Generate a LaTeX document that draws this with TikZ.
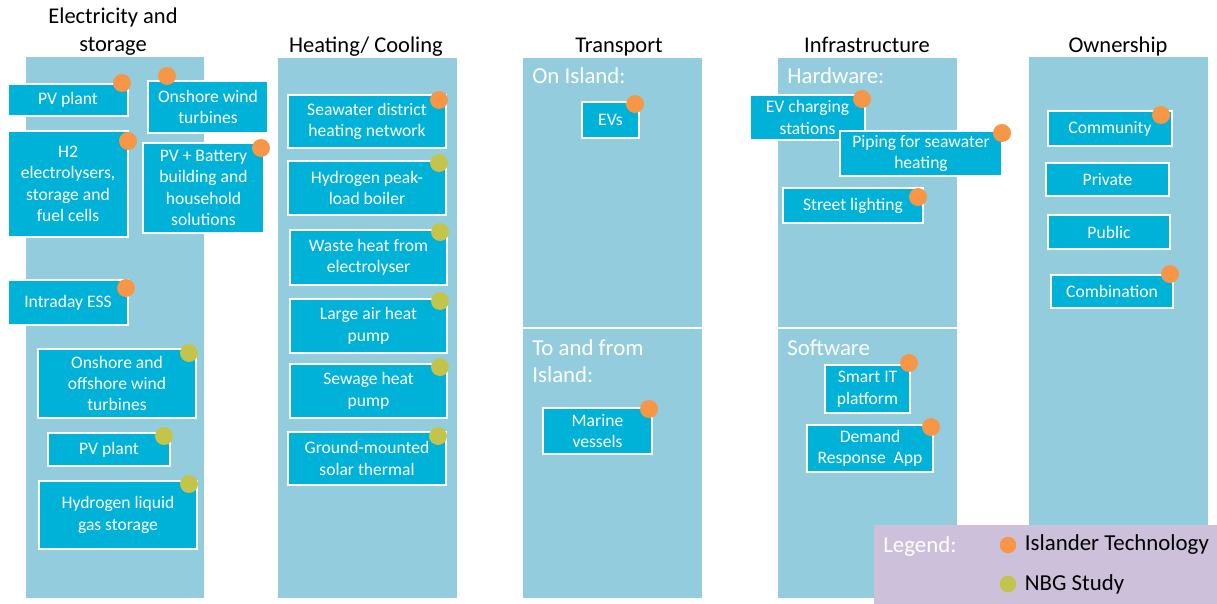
\documentclass[tikz,border=0pt]{standalone}
\usepackage{fontspec}
\setmainfont{Carlito}
\usetikzlibrary{positioning,fit}
\definecolor{colbg}{HTML}{93CDDD}
\definecolor{techfill}{HTML}{00B2D8}
\definecolor{islorange}{HTML}{F79646}
\definecolor{nbggreen}{HTML}{C4C44A}
\definecolor{legbg}{HTML}{CCC0DA}

\begin{document}
\begin{tikzpicture}[
  x=0.02cm, y=-0.02cm,
  column/.style={rectangle, fill=colbg, inner sep=0pt},
  divider/.style={white, line width=1.2pt},
  tech/.style={rectangle, fill=techfill, draw=white, line width=1.1pt, inner sep=0pt, align=center, text=white, font=\fontsize{10}{12.2}\selectfont},
  heading/.style={align=center, inner sep=0pt, font=\fontsize{12.8}{15.8}\selectfont},
  sublabel/.style={anchor=north west, align=left, inner sep=0pt, text=white, font=\fontsize{13}{15.5}\selectfont},
  islander/.style={circle, fill=islorange, minimum size=0.36cm, inner sep=0pt},
  nbg/.style={circle, fill=nbggreen, minimum size=0.36cm, inner sep=0pt},
  legtext/.style={inner sep=0pt, font=\fontsize{13}{15.5}\selectfont},
]
  \useasboundingbox (0,0) rectangle (1217,604);

  % columns
  \node[column, fit={(26,57) (204,598)}] (colElec) {};
  \node[column, fit={(278,58) (457,598)}] (colHeat) {};
  \node[column, fit={(523,58) (702,598)}] (colTrans) {};
  \node[column, fit={(778,58) (957,598)}] (colInfra) {};
  \node[column, fit={(1029,57) (1208,598)}] (colOwn) {};
  \draw[divider] (523,328) -- (702,328);
  \draw[divider] (778,328) -- (957,328);

  \node[heading, anchor=north] (hElec) at (113,8) {Electricity and\\storage};
  \node[heading, anchor=base] (hHeat) at (366,53) {Heating/ Cooling};
  \node[heading, anchor=base] (hTrans) at (619,53) {Transport};
  \node[heading, anchor=base] (hInfra) at (867,53) {Infrastructure};
  \node[heading, anchor=base] (hOwn) at (1118,53) {Ownership};

  \node[sublabel] (sOnIsl) at (532,67) {On Island:};
  \node[sublabel] (sToIsl) at (532,339) {To and from\\Island:};
  \node[sublabel] (sHard) at (787,67) {Hardware:};
  \node[sublabel] (sSoft) at (787,339) {Software};

  % electricity and storage
  \node[tech, minimum width=2.4cm, minimum height=0.64cm] (pvA) at (68,100) {PV plant};
  \node[tech, minimum width=2.4cm, minimum height=1.04cm] (windA) at (208,107) {Onshore wind\\turbines};
  \node[tech, minimum width=2.4cm, minimum height=2.12cm] (htwo) at (68,184) {H2\\electrolysers,\\storage and\\fuel cells};
  \node[tech, minimum width=2.42cm, minimum height=1.8cm] (pvbat) at (203.5,188) {PV + Battery\\building and\\household\\solutions};
  \node[tech, minimum width=2.4cm, minimum height=0.9cm] (ess) at (68,302.5) {Intraday ESS};
  \node[tech, minimum width=3.16cm, minimum height=1.38cm] (windB) at (117,383.5) {Onshore and\\offshore wind\\turbines};
  \node[tech, minimum width=2.44cm, minimum height=0.66cm] (pvB) at (109,449.5) {PV plant};
  \node[tech, minimum width=3.16cm, minimum height=1.36cm] (hliq) at (118,515) {Hydrogen liquid\\gas storage};
  \node[islander] (dPvA) at (122,83) {};
  \node[islander] (dWindA) at (167,76) {};
  \node[islander] (dHtwo) at (128,141) {};
  \node[islander] (dPvbat) at (261,148) {};
  \node[islander] (dEss) at (126,288) {};
  \node[nbg] (dWindB) at (189,353) {};
  \node[nbg] (dPvB) at (164,436) {};
  \node[nbg] (dHliq) at (189,484) {};

  % heating / cooling
  \node[tech, minimum width=3.16cm, minimum height=1.06cm] (seadh) at (367,121.5) {Seawater district\\heating network};
  \node[tech, minimum width=3.16cm, minimum height=1.08cm] (hboil) at (367,188) {Hydrogen peak-\\load boiler};
  \node[tech, minimum width=3.14cm, minimum height=1.1cm] (waste) at (368.5,257.5) {Waste heat from\\electrolyser};
  \node[tech, minimum width=3.14cm, minimum height=1.08cm] (airhp) at (368.5,326) {Large air heat\\pump};
  \node[tech, minimum width=3.14cm, minimum height=1.08cm] (sewhp) at (368.5,391) {Sewage heat\\pump};
  \node[tech, minimum width=3.16cm, minimum height=1.06cm] (solth) at (367,458.5) {Ground-mounted\\solar thermal};
  \node[islander] (dSeadh) at (439,100) {};
  \node[nbg] (dHboil) at (439,163) {};
  \node[nbg] (dWaste) at (440,232) {};
  \node[nbg] (dAirhp) at (440,301) {};
  \node[nbg] (dSewhp) at (440,367) {};
  \node[nbg] (dSolth) at (438,436) {};

  % transport
  \node[tech, minimum width=1.14cm, minimum height=0.72cm] (evs) at (610.5,120) {EVs};
  \node[tech, minimum width=2.18cm, minimum height=0.92cm] (marine) at (597.5,431) {Marine\\vessels};
  \node[islander] (dEvs) at (635,104) {};
  \node[islander] (dMarine) at (649,409) {};

  % infrastructure
  \node[tech, minimum width=2.3cm, minimum height=0.9cm] (evch) at (807.5,117.5) {EV charging\\stations};
  \node[tech, minimum width=3.24cm, minimum height=0.9cm] (piping) at (921,153.5) {Piping for seawater\\heating};
  \node[tech, minimum width=2.8cm, minimum height=0.7cm] (street) at (853,205.5) {Street lighting};
  \node[tech, minimum width=1.7cm, minimum height=0.96cm] (smart) at (867.5,389) {Smart IT\\platform};
  \node[tech, minimum width=2.52cm, minimum height=0.94cm] (demand) at (870,448.5) {Demand\\Response\ \ App};
  \node[islander] (dEvch) at (862,99) {};
  \node[islander] (dPiping) at (1002,133) {};
  \node[islander] (dStreet) at (918,197) {};
  \node[islander] (dSmart) at (909,363) {};
  \node[islander] (dDemand) at (931,427) {};

  % ownership
  \node[tech, minimum width=2.48cm, minimum height=0.7cm] (comm) at (1110,128.5) {Community};
  \node[tech, minimum width=2.46cm, minimum height=0.66cm] (priv) at (1107.5,179.5) {Private};
  \node[tech, minimum width=2.44cm, minimum height=0.68cm] (publ) at (1109,232) {Public};
  \node[tech, minimum width=2.44cm, minimum height=0.66cm] (combi) at (1112,291.5) {Combination};
  \node[islander] (dComm) at (1161,115) {};
  \node[islander] (dCombi) at (1170,274) {};

  % legend
  \node[rectangle, fill=legbg, inner sep=0pt, fit={(874,525) (1217,604)}] (legend) {};
  \node[legtext, text=white, anchor=base west] (legTitle) at (883,552) {Legend:};
  \node[islander, minimum size=0.33cm] (legIsl) at (1008,545) {};
  \node[nbg, minimum size=0.33cm] (legNbg) at (1008,584) {};
  \node[legtext, right=0.16cm of legIsl] (legIslText) {Islander Technology};
  \node[legtext, right=0.16cm of legNbg] (legNbgText) {NBG Study};
\end{tikzpicture}
\end{document}
